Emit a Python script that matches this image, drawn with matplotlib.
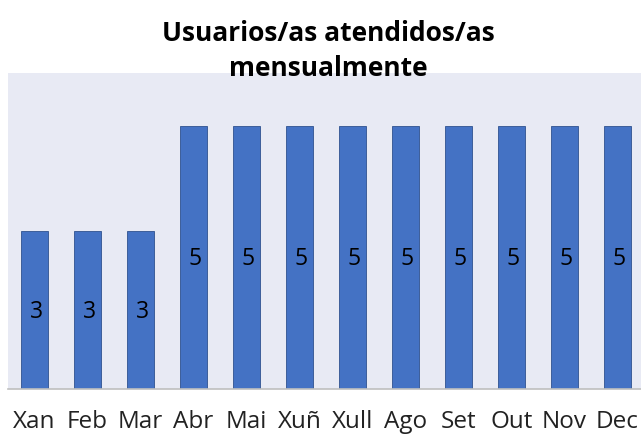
import matplotlib
matplotlib.use("Agg")
import matplotlib.pyplot as plt

months = ["Xan", "Feb", "Mar", "Abr", "Mai", "Xuñ", "Xull", "Ago", "Set", "Out", "Nov", "Dec"]
values = [3, 3, 3, 5, 5, 5, 5, 5, 5, 5, 5, 5]

plt.rcParams['font.family'] = ['Open Sans', 'DejaVu Sans']

W, H = 641, 434
fig = plt.figure(figsize=(W/100, H/100), dpi=100)
ax = fig.add_axes([8/W, 1-389/H, 636/W, 316/H])
ax.set_facecolor('#E8EAF4')
x = list(range(len(months)))
bars = ax.bar(x, values, width=0.51, color='#4472C4', edgecolor='#2F528F', linewidth=0.6, zorder=2)
for xi, v in zip(x, values):
    ax.text(xi + 0.03, v/2 - 0.03, str(v), ha='center', va='center', fontsize=16.5, color='#000000', zorder=3)
ax.set_xlim(-0.5, 11.5)
ax.set_ylim(0, 6)
ax.set_yticks([])
ax.set_xticks(x)
ax.set_xticklabels(months, fontsize=17.5, color='#222222')
ax.tick_params(axis='x', length=0, pad=15)
for s in ['top', 'right', 'left']:
    ax.spines[s].set_visible(False)
ax.spines['bottom'].set_color('#BFBFBF')
ax.spines['bottom'].set_linewidth(1.2)

fig.text(328/W, 1-51/H, "Usuarios/as atendidos/as\nmensualmente", ha='center', va='center',
         fontsize=19, fontweight='bold', linespacing=1.4, color='#000000')

fig.savefig('out.png', dpi=100, facecolor='white')
